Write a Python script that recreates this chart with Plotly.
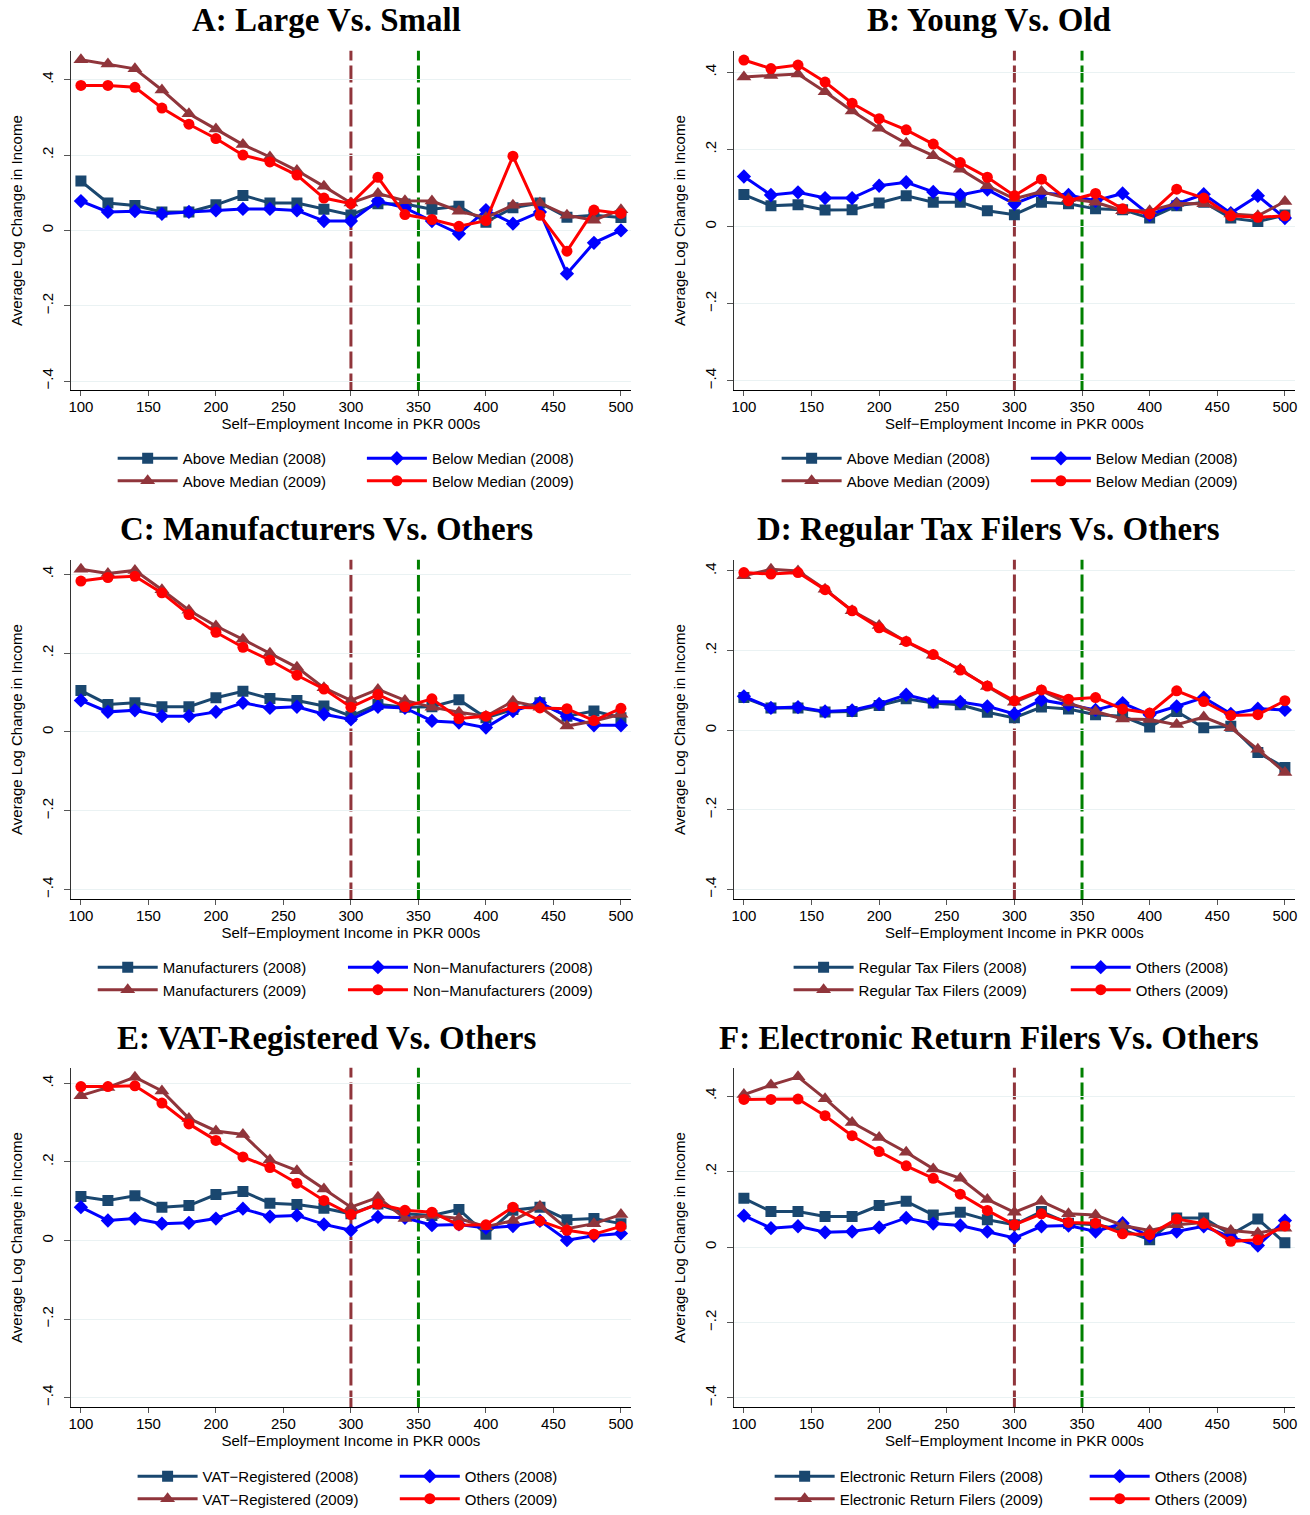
import plotly.graph_objects as go

# ---------------- data ----------------
income = [100, 120, 140, 160, 180, 200, 220, 240, 260, 280, 300,
          320, 340, 360, 380, 400, 420, 440, 460, 480, 500]
cutoffs = [300, 350]

titles = ["A: Large Vs. Small", "B: Young Vs. Old", "C: Manufacturers Vs. Others",
          "D: Regular Tax Filers Vs. Others", "E: VAT-Registered Vs. Others",
          "F: Electronic Return Filers Vs. Others"]

labels_a = ["Above Median (2008)", "Below Median (2008)", "Above Median (2009)", "Below Median (2009)"]
labels_b = ["Above Median (2008)", "Below Median (2008)", "Above Median (2009)", "Below Median (2009)"]
labels_c = ["Manufacturers (2008)", "Non\u2212Manufacturers (2008)", "Manufacturers (2009)", "Non\u2212Manufacturers (2009)"]
labels_d = ["Regular Tax Filers (2008)", "Others (2008)", "Regular Tax Filers (2009)", "Others (2009)"]
labels_e = ["VAT\u2212Registered (2008)", "Others (2008)", "VAT\u2212Registered (2009)", "Others (2009)"]
labels_f = ["Electronic Return Filers (2008)", "Others (2008)", "Electronic Return Filers (2009)", "Others (2009)"]

# Panel A: Large vs Small
a_above_2008 = [0.131, 0.073, 0.066, 0.049, 0.049, 0.068, 0.093, 0.073, 0.073, 0.056, 0.041,
                0.071, 0.07, 0.056, 0.064, 0.022, 0.06, 0.073, 0.035, 0.04, 0.034]
a_below_2008 = [0.078, 0.049, 0.051, 0.044, 0.049, 0.053, 0.057, 0.057, 0.053, 0.025, 0.025,
                0.078, 0.06, 0.025, -0.009, 0.054, 0.018, 0.049, -0.115, -0.033, 0.0]
a_above_2009 = [0.453, 0.442, 0.429, 0.373, 0.31, 0.269, 0.228, 0.195, 0.159, 0.117, 0.073,
                0.098, 0.079, 0.078, 0.051, 0.034, 0.067, 0.073, 0.04, 0.027, 0.055]
a_below_2009 = [0.385, 0.385, 0.38, 0.325, 0.282, 0.244, 0.2, 0.182, 0.147, 0.086, 0.071,
                0.141, 0.042, 0.029, 0.011, 0.026, 0.197, 0.04, -0.055, 0.054, 0.045]

# Panel B: Young vs Old
b_above_2008 = [0.083, 0.054, 0.057, 0.043, 0.044, 0.061, 0.08, 0.063, 0.063, 0.041, 0.031,
                0.063, 0.059, 0.046, 0.044, 0.022, 0.054, 0.063, 0.022, 0.013, 0.03]
b_below_2008 = [0.13, 0.082, 0.089, 0.074, 0.074, 0.106, 0.115, 0.09, 0.082, 0.096, 0.059,
                0.087, 0.082, 0.067, 0.086, 0.03, 0.059, 0.084, 0.035, 0.08, 0.022]
b_above_2009 = [0.388, 0.392, 0.396, 0.35, 0.3, 0.255, 0.216, 0.184, 0.149, 0.106, 0.072,
                0.091, 0.072, 0.063, 0.041, 0.041, 0.06, 0.059, 0.033, 0.028, 0.065]
b_below_2009 = [0.432, 0.41, 0.419, 0.375, 0.32, 0.28, 0.251, 0.214, 0.166, 0.128, 0.08,
                0.123, 0.067, 0.086, 0.046, 0.033, 0.097, 0.074, 0.028, 0.024, 0.028]

# Panel C: Manufacturers vs Others
c_above_2008 = [0.105, 0.07, 0.074, 0.064, 0.064, 0.087, 0.103, 0.085, 0.08, 0.066, 0.04,
                0.07, 0.063, 0.064, 0.082, 0.036, 0.057, 0.074, 0.04, 0.053, 0.036]
c_below_2008 = [0.08, 0.051, 0.055, 0.04, 0.04, 0.051, 0.074, 0.061, 0.064, 0.045, 0.032,
                0.064, 0.061, 0.028, 0.024, 0.011, 0.053, 0.074, 0.04, 0.017, 0.017]
c_above_2009 = [0.413, 0.402, 0.41, 0.361, 0.309, 0.269, 0.235, 0.2, 0.164, 0.112, 0.08,
                0.108, 0.08, 0.063, 0.05, 0.04, 0.078, 0.063, 0.015, 0.028, 0.045]
c_below_2009 = [0.383, 0.392, 0.395, 0.353, 0.298, 0.253, 0.215, 0.182, 0.144, 0.109, 0.063,
                0.095, 0.064, 0.084, 0.034, 0.04, 0.063, 0.061, 0.059, 0.029, 0.06]

# Panel D: Regular Tax Filers vs Others
d_above_2008 = [0.082, 0.056, 0.056, 0.046, 0.047, 0.062, 0.079, 0.068, 0.064, 0.045, 0.031,
                0.058, 0.053, 0.039, 0.035, 0.008, 0.047, 0.006, 0.01, -0.056, -0.094]
d_below_2008 = [0.085, 0.056, 0.058, 0.047, 0.05, 0.066, 0.089, 0.072, 0.071, 0.06, 0.041,
                0.076, 0.064, 0.051, 0.068, 0.039, 0.06, 0.082, 0.041, 0.054, 0.051]
d_above_2009 = [0.388, 0.404, 0.4, 0.354, 0.3, 0.263, 0.222, 0.188, 0.153, 0.11, 0.07,
                0.099, 0.068, 0.047, 0.028, 0.027, 0.014, 0.033, 0.006, -0.048, -0.106]
d_below_2009 = [0.396, 0.392, 0.396, 0.353, 0.3, 0.257, 0.223, 0.19, 0.151, 0.111, 0.074,
                0.101, 0.078, 0.082, 0.053, 0.043, 0.099, 0.072, 0.037, 0.039, 0.074]

# Panel E: VAT-Registered vs Others
e_above_2008 = [0.112, 0.102, 0.114, 0.085, 0.089, 0.117, 0.125, 0.095, 0.092, 0.082, 0.068,
                0.093, 0.068, 0.064, 0.079, 0.016, 0.077, 0.085, 0.053, 0.056, 0.043]
e_below_2008 = [0.085, 0.051, 0.056, 0.043, 0.045, 0.056, 0.081, 0.061, 0.064, 0.041, 0.026,
                0.06, 0.058, 0.039, 0.041, 0.032, 0.037, 0.05, 0.001, 0.012, 0.018]
e_above_2009 = [0.369, 0.39, 0.416, 0.381, 0.311, 0.279, 0.27, 0.205, 0.178, 0.131, 0.085,
                0.11, 0.056, 0.064, 0.056, 0.035, 0.051, 0.087, 0.03, 0.043, 0.066]
e_below_2009 = [0.392, 0.392, 0.394, 0.35, 0.297, 0.255, 0.213, 0.186, 0.146, 0.102, 0.066,
                0.093, 0.077, 0.072, 0.039, 0.04, 0.085, 0.05, 0.026, 0.016, 0.036]

# Panel F: Electronic Return Filers vs Others
f_above_2008 = [0.129, 0.094, 0.094, 0.081, 0.081, 0.11, 0.121, 0.085, 0.092, 0.072, 0.059,
                0.094, 0.063, 0.059, 0.046, 0.019, 0.077, 0.077, 0.033, 0.074, 0.011]
f_below_2008 = [0.083, 0.05, 0.055, 0.039, 0.041, 0.052, 0.077, 0.062, 0.057, 0.041, 0.024,
                0.055, 0.057, 0.041, 0.063, 0.028, 0.041, 0.055, 0.026, 0.004, 0.07]
f_above_2009 = [0.404, 0.429, 0.451, 0.393, 0.33, 0.29, 0.251, 0.207, 0.182, 0.126, 0.092,
                0.121, 0.088, 0.085, 0.057, 0.044, 0.059, 0.065, 0.044, 0.037, 0.05]
f_below_2009 = [0.391, 0.391, 0.392, 0.348, 0.295, 0.253, 0.215, 0.182, 0.14, 0.097, 0.059,
                0.088, 0.065, 0.063, 0.035, 0.033, 0.074, 0.062, 0.015, 0.019, 0.056]

panels = [
    (labels_a, [a_above_2008, a_below_2008, a_above_2009, a_below_2009]),
    (labels_b, [b_above_2008, b_below_2008, b_above_2009, b_below_2009]),
    (labels_c, [c_above_2008, c_below_2008, c_above_2009, c_below_2009]),
    (labels_d, [d_above_2008, d_below_2008, d_above_2009, d_below_2009]),
    (labels_e, [e_above_2008, e_below_2008, e_above_2009, e_below_2009]),
    (labels_f, [f_above_2008, f_below_2008, f_above_2009, f_below_2009]),
]

# ---------------- styling / layout ----------------
W, H = 1310, 1515
SANS = "Liberation Sans, Arial, sans-serif"
SERIF = "Liberation Serif, Times New Roman, serif"
series_style = [
    dict(color="#1A476F", symbol="square", size=11),
    dict(color="#0000FF", symbol="diamond", size=11),
    dict(color="#90353B", symbol="triangle-up", size=13),
    dict(color="#FF0000", symbol="circle", size=11),
]
cut_colors = ["#90353B", "#008000"]

col_px = [(69, 631), (734, 1297)]
row_px = [(51, 392), (562, 903), (1072, 1413)]
title_cx = [325, 990]
title_cy = [20, 531, 1042]
legend_row_y = [460, 971, 1482]
legend_text_x = [(181, 431), (847, 1097), (161, 412), (859, 1137), (201, 464), (840, 1156)]
ITEMW = 60
TEXTGAP = ITEMW + 10
ITEMH = 22.5

fig = go.Figure()
layout = dict(width=W, height=H, margin=dict(l=0, r=0, t=0, b=0),
              paper_bgcolor="white", plot_bgcolor="white",
              font=dict(family=SANS, size=15, color="black"),
              showlegend=True)
shapes = []
annotations = []

for p, (labels, series) in enumerate(panels):
    r, c = divmod(p, 2)
    n = p + 1
    xa = "x" if n == 1 else f"x{n}"
    ya = "y" if n == 1 else f"y{n}"
    xkey = "xaxis" if n == 1 else f"xaxis{n}"
    ykey = "yaxis" if n == 1 else f"yaxis{n}"
    leg_left = "legend" if p == 0 else f"legend{2 * p + 1}"
    leg_right = f"legend{2 * p + 2}"

    for k, (lab, vals) in enumerate(zip(labels, series)):
        st = series_style[k]
        fig.add_trace(go.Scatter(
            x=income, y=vals, mode="lines+markers", name=lab,
            line=dict(color=st["color"], width=3),
            marker=dict(color=st["color"], symbol=st["symbol"], size=st["size"],
                        line=dict(width=0)),
            xaxis=xa, yaxis=ya,
            legend=leg_left if k % 2 == 0 else leg_right,
        ))

    x0, x1 = col_px[c]
    top, bot = row_px[r]
    ymax = max(max(s) for s in series) + 0.024
    layout[xkey] = dict(
        domain=[x0 / W, x1 / W], range=[92.5, 507.5], anchor=ya,
        tickvals=[100, 150, 200, 250, 300, 350, 400, 450, 500],
        ticks="outside", ticklen=5, tickcolor="#555555", tickwidth=1,
        ticklabelstandoff=-2,
        showline=True, linecolor="black", linewidth=1,
        showgrid=False, zeroline=False,
        tickfont=dict(family=SANS, size=15),
        title=dict(text="Self\u2212Employment Income in PKR 000s",
                   font=dict(family=SANS, size=15), standoff=2),
    )
    layout[ykey] = dict(
        domain=[1 - bot / H, 1 - top / H], range=[-0.425, ymax], anchor=xa,
        tickvals=[-0.4, -0.2, 0, 0.2, 0.4],
        ticktext=["\u2212.4", "\u2212.2", "0", ".2", ".4"],
        tickangle=-90, ticks="outside", ticklen=6, tickcolor="#555555", tickwidth=1,
        ticklabelstandoff=5,
        showline=True, linecolor="#333333", linewidth=1,
        showgrid=True, gridcolor="#EAF2F3", gridwidth=1, zeroline=False,
        tickfont=dict(family=SANS, size=15),
        title=dict(text="Average Log Change in Income",
                   font=dict(family=SANS, size=15), standoff=12),
    )
    for cx, cc in zip(cutoffs, cut_colors):
        shapes.append(dict(type="line", xref=xa, yref=f"{ya} domain",
                           x0=cx, x1=cx, y0=0, y1=1, layer="below",
                           line=dict(color=cc, width=3, dash="17px,5px")))
    annotations.append(dict(
        text=f"<b>{titles[p]}</b>", xref="paper", yref="paper",
        x=title_cx[c] / W, y=1 - title_cy[r] / H, xanchor="center", yanchor="middle",
        showarrow=False, font=dict(family=SERIF, size=33, color="black")))

    ly_top = legend_row_y[r] - 5 - ITEMH / 2
    for key, tx in ((leg_left, legend_text_x[p][0]), (leg_right, legend_text_x[p][1])):
        layout[key] = dict(
            x=(tx - TEXTGAP) / W, y=1 - ly_top / H, xanchor="left", yanchor="top",
            orientation="v", bgcolor="rgba(0,0,0,0)", borderwidth=0,
            itemwidth=ITEMW, font=dict(family=SANS, size=15, color="black"),
            traceorder="normal", itemclick=False, itemdoubleclick=False)

layout["shapes"] = shapes
layout["annotations"] = annotations
fig.update_layout(**layout)
fig.write_html("out.html")
